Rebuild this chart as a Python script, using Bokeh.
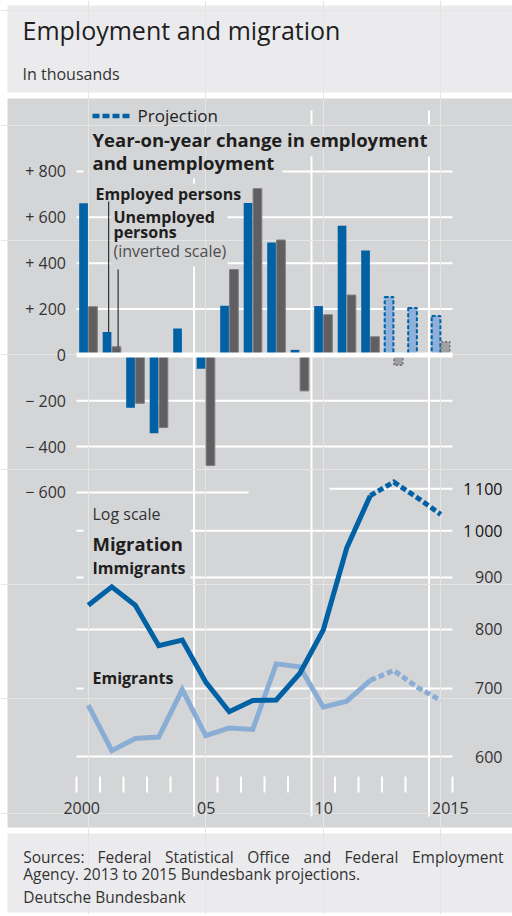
import math
from bokeh.plotting import figure
from bokeh.models import Range1d, LogScale, Label
from bokeh.core.properties import value
from bokeh.embed import file_html
from bokeh.resources import INLINE

# ---------------- data (thousands) ----------------
years = [2000, 2001, 2002, 2003, 2004, 2005, 2006, 2007,
         2008, 2009, 2010, 2011, 2012, 2013, 2014, 2015]
employed_change = [661, 100, -230, -342, 115, -60, 214, 662,
                   490, 22, 213, 563, 455, 253, 205, 170]
unemployed_change_inverted = [210, 35, -211, -317, 0, -482, 372, 725,
                              501, -157, 175, 261, 79, -45, 0, 57]
immigrants = [845, 881, 845, 771, 781, 710, 664, 681,
              682, 724, 799, 962, 1083, 1117, 1078, 1038]
emigrants = [674, 608, 625, 627, 698, 629, 640, 638,
             740, 735, 671, 680, 713, 729, 702, 681]
projection_start = 2013

bar_ticks = [800, 600, 400, 200, 0, -200, -400, -600]
bar_tick_labels = ["+ 800", "+ 600", "+ 400", "+ 200", "0",
                   "\u2212 200", "\u2212 400", "\u2212 600"]
migration_ticks = [600, 700, 800, 900, 1000, 1100]
migration_tick_labels = ["600", "700", "800", "900", "1\u2009000", "1\u2009100"]
year_labels = ["2000", "05", "10", "2015"]
label_years = [2000, 2005, 2010, 2015]

# ---------------- style ----------------
FONT = "Open Sans"
PANEL = "#d4d5d7"
HEAD = "#ebebed"
BLUE = "#0061a5"
LBLUE = "#8aadd6"
PBLUE = "#8fb0d8"
GRAY = "#5f5f61"
PGRAY = "#a0a0a2"
TXT = "#1e1e1e"
AX = "#333333"
W, H = 512, 914

# layout helpers: page pixel -> data units of each scale
PX0, PXW = 76.0, 23.5                 # left edge of year 2000 slot, px per year
ZERO_PY, PX_PER_UNIT = 354.4, 0.22929  # bar scale
LOG_PY600, PX_PER_LN = 756.0, 441.7   # migration log scale


def X(px):
    return years[0] - 0.5 + (px - PX0) / PXW


def YB(py):
    return (ZERO_PY - py) / PX_PER_UNIT


def YL(py):
    return migration_ticks[0] * math.exp((LOG_PY600 - py) / PX_PER_LN)


p = figure(width=W, height=H,
           x_range=Range1d(X(0), X(W)), y_range=Range1d(YB(H), YB(0)),
           output_backend="svg", toolbar_location=None,
           x_axis_location=None, y_axis_location=None, min_border=0,
           background_fill_color="white", border_fill_color="white",
           outline_line_color=None)
p.extra_y_ranges = {"log": Range1d(YL(H), YL(0)), "px": Range1d(H, 0)}
p.extra_y_scales = {"log": LogScale()}
p.extra_x_ranges = {"px": Range1d(0, W)}

MID = 0.4  # distance (in em) from the alphabetic baseline up to the text's middle


def label(x, y, text, size, bold=False, color=TXT, align="left",
          xr="px", yr="px", xoff=0, yoff=0.0):
    # y is the alphabetic baseline (page px, or data units when yr != "px")
    p.add_layout(Label(x=x, y=y, text=text, x_range_name=xr, y_range_name=yr,
                       x_offset=xoff, y_offset=MID * size + yoff,
                       text_font=FONT, text_font_size=f"{size}px",
                       text_font_style="bold" if bold else "normal",
                       text_color=color, text_align=align, text_baseline="middle"))


def box(x0, x1, y0, y1, color, level):
    p.quad(left=[x0], right=[x1], top=[y0], bottom=[y1], x_range_name="px",
           y_range_name="px", fill_color=color, line_color=None, level=level)


# panels
box(7, W, 5, 92, HEAD, "image")
box(7, W, 98, 827, PANEL, "image")
box(7, W, 833, 912, HEAD, "image")

x_left, x_right = years[0] - 0.5, years[-1] + 0.5

# horizontal grid (bar panel)
full_bar = [t for t in bar_ticks if t != 0 and t != bar_ticks[-1]]
p.segment(x0=[x_left] * len(full_bar), x1=[x_right] * len(full_bar),
          y0=full_bar, y1=full_bar, line_color="white", line_width=2, level="underlay")
p.segment(x0=[x_left], x1=[X(248)], y0=[bar_ticks[-1]], y1=[bar_ticks[-1]],
          line_color="white", line_width=2, level="underlay")
# horizontal grid (migration panel, log scale)
full_log = migration_ticks[:-1]
p.segment(x0=[x_left] * len(full_log), x1=[x_right] * len(full_log),
          y0=full_log, y1=full_log, y_range_name="log",
          line_color="white", line_width=2, level="underlay")
p.segment(x0=[X(329)], x1=[x_right], y0=[migration_ticks[-1]], y1=[migration_ticks[-1]],
          y_range_name="log", line_color="white", line_width=2, level="underlay")
# vertical grid at 2005, 2010, 2015
vgrid = [y - 0.5 for y in label_years if y > years[0]]
p.segment(x0=vgrid, x1=vgrid, y0=[YB(110)] * len(vgrid), y1=[YB(816)] * len(vgrid),
          line_color="white", line_width=2, level="underlay")
# minor year ticks
bounds = [y - 0.5 for y in years + [years[-1] + 1] if (y - 0.5) not in vgrid]
p.segment(x0=bounds, x1=bounds, y0=[YB(776)] * len(bounds), y1=[YB(792)] * len(bounds),
          line_color="white", line_width=2, level="underlay")

# occluders behind the panel texts (hide grid lines like the original)
box(88, 222, 108, 126, PANEL, "underlay")
box(86, 434, 124, 156, PANEL, "underlay")
box(83, 282, 156, 178, PANEL, "underlay")
box(91, 247, 183, 205, PANEL, "underlay")
box(110, 227, 205, 266, PANEL, "underlay")
box(83, 190, 526, 581, PANEL, "underlay")
box(83, 183, 667, 692, PANEL, "underlay")

# bars
off, bw = 0.2, 0.37
hist = [i for i, y in enumerate(years) if y < projection_start]
proj = [i for i, y in enumerate(years) if y >= projection_start]
p.vbar(x=[years[i] - off for i in hist], top=[employed_change[i] for i in hist], bottom=0,
       width=bw, fill_color=BLUE, line_color=None)
p.vbar(x=[years[i] + off for i in hist], top=[unemployed_change_inverted[i] for i in hist],
       bottom=0, width=bw, fill_color=GRAY, line_color="#7c7c7e", line_width=1)
p.vbar(x=[years[i] - off for i in proj], top=[employed_change[i] for i in proj], bottom=0,
       width=bw, fill_color=PBLUE, line_color=BLUE, line_width=2, line_dash="4 2")
pg = [i for i in proj if unemployed_change_inverted[i] != 0]
p.vbar(x=[years[i] + off for i in pg], top=[unemployed_change_inverted[i] for i in pg],
       bottom=0, width=bw, fill_color=PGRAY, line_color="#6e6e70", line_width=1.5,
       line_dash="2 2")
# zero line
p.segment(x0=[x_left], x1=[x_right], y0=[0], y1=[0], line_color="white", line_width=5)

# migration lines
k = years.index(projection_start - 1) + 1
p.line(years[:k], emigrants[:k], y_range_name="log", line_color=LBLUE, line_width=5,
       line_join="miter")
p.line(years[k - 1:], emigrants[k - 1:], y_range_name="log", line_color=LBLUE,
       line_width=5, line_dash="6 3", line_join="miter")
p.line(years[:k], immigrants[:k], y_range_name="log", line_color=BLUE, line_width=5,
       line_join="miter")
p.line(years[k - 1:], immigrants[k - 1:], y_range_name="log", line_color=BLUE,
       line_width=5, line_dash="6 3", line_join="miter")

# leader lines to the 2001 bars
i01 = years.index(2001)
p.segment(x0=[years[i01] - off + 0.07, years[i01] + off + 0.07],
          x1=[years[i01] - off + 0.07, years[i01] + off + 0.07],
          y0=[YB(201), YB(269)],
          y1=[employed_change[i01], unemployed_change_inverted[i01]],
          line_color="#111111", line_width=1)

# legend sample (projection)
p.segment(x0=[92], x1=[129], y0=[115.5], y1=[115.5], x_range_name="px", y_range_name="px",
          line_color=BLUE, line_width=4.5, line_dash="7 3")

# tick labels (left: bar scale, right: log scale)
p.text(x=[65.5] * len(bar_ticks), y=bar_ticks, text=bar_tick_labels, x_range_name="px",
       text_align="right", text_baseline="middle", text_font=value(FONT),
       text_font_size=value("16px"), text_color=AX)
right_colors = [AX if t < 1000 else "#111111" for t in migration_ticks]
p.text(x=[502] * len(migration_ticks), y=migration_ticks, text=migration_tick_labels,
       x_range_name="px", y_range_name="log", text_align="right", text_baseline="middle",
       text_font=value(FONT), text_font_size=value("16px"), text_color=right_colors)

# x labels (baseline at page y 814)
for yr, txt in zip(label_years, year_labels):
    if yr == years[0]:
        label(yr + 0.5, YB(814), txt, 16, color=AX, align="right", xr="default", yr="default")
    else:
        label(yr - 0.5, YB(814), txt, 16, color=AX, xr="default", yr="default", xoff=3)

# header texts
label(22, 39.3, "Employment and migration", 25)
label(22, 80, "In thousands", 16, color="#333333")

# panel texts
label(137, 122, "Projection", 17)
label(92, 146.7, "Year-on-year change in employment", 18.5, bold=True)
label(92, 169, "and unemployment", 18.5, bold=True)
label(95, 200, "Employed persons", 16, bold=True)
label(113, 222.5, "Unemployed", 16, bold=True)
label(113, 237.5, "persons", 16, bold=True)
label(113, 256.5, "(inverted scale)", 16, color="#4d4d4d")
label(92, 519.5, "Log scale", 16, color="#333333")
label(92, 550, "Migration", 18.5, bold=True)
label(92, 573.5, "Immigrants", 16, bold=True)
label(92, 684, "Emigrants", 16, bold=True)

# footer texts
words = ["Sources:", "Federal", "Statistical", "Office", "and", "Federal", "Employment"]
word_x = [22.7, 97.1, 164.4, 246.8, 303.1, 344.1, 503]
for w_, x_ in zip(words, word_x):
    label(x_, 863, w_, 15.5, color="#333333", align="right" if w_ == words[-1] else "left")
label(22.7, 880, "Agency. 2013 to 2015 Bundesbank projections.", 15.5, color="#333333")
label(22.7, 903, "Deutsche Bundesbank", 15.5, color="#333333")

open("out.html", "w").write(file_html(p, INLINE))
